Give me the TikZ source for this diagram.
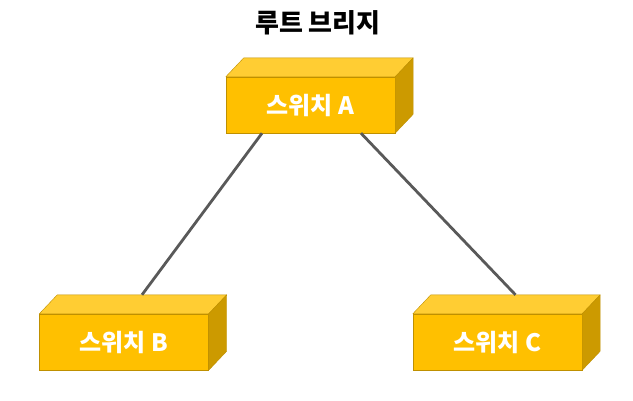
\documentclass[tikz,border=0pt]{standalone}
\usepackage{fontspec}
\newfontfamily\kor{Noto Sans CJK KR}
\definecolor{boxfront}{HTML}{FFC000}
\definecolor{boxtop}{HTML}{FFCD33}
\definecolor{boxside}{HTML}{CC9A00}
\definecolor{boxedge}{HTML}{BF9000}
\definecolor{linkgray}{HTML}{595959}
\tikzset{
  front/.style={draw=boxedge, fill=boxfront, minimum width=169pt, minimum height=56pt,
    inner sep=0pt, font=\kor\bfseries\fontsize{24}{28}\selectfont, text=white},
  topface/.style={draw=boxedge, fill=boxtop, line join=round},
  sideface/.style={draw=boxedge, fill=boxside, line join=round},
  link/.style={draw=linkgray, line width=2.8pt}
}
\begin{document}
\begin{tikzpicture}[x=1pt, y=-1pt]
\useasboundingbox (0,0) rectangle (633,400);
\node[font=\kor\bfseries\fontsize{26}{30}\selectfont] (title) at (318,23) {루트 브리지};

% switches
\node[front] (swA) at (310.5,105) {스위치 A};
\node[front] (swB) at (124,342) {스위치 B};
\node[front] (swC) at (497.5,342) {스위치 C};

\foreach \sw in {swA,swB,swC}{
  \filldraw[topface] (\sw.north west) -- ++(18,-19) -- ([shift={(18,-19)}]\sw.north east) -- (\sw.north east) -- cycle;
  \filldraw[sideface] (\sw.north east) -- ++(18,-19) -- ([shift={(18,-19)}]\sw.south east) -- (\sw.south east) -- cycle;
}

% links
\coordinate (topB) at ([shift={(18,-19)}]swB.north);
\coordinate (topC) at ([shift={(18,-19)}]swC.north);
\draw[link] ([xshift=-48.5pt]swA.south) -- (topB);
\draw[link] ([xshift=50.5pt]swA.south) -- (topC);

\end{tikzpicture}
\end{document}
